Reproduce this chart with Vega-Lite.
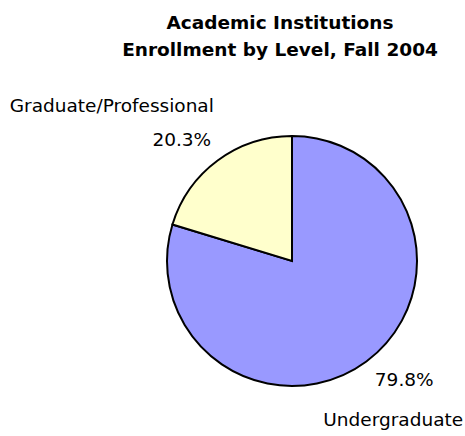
{
  "$schema": "https://vega.github.io/schema/vega-lite/v6.json",
  "width": 346,
  "height": 350,
  "autosize": {"type": "none"},
  "padding": {"left": 119, "top": 86, "right": 0, "bottom": 0},
  "background": "white",
  "view": {"stroke": null},
  "title": {
    "text": ["Academic Institutions", "Enrollment by Level, Fall 2004"],
    "font": "DejaVu Sans",
    "fontSize": 18.5,
    "fontWeight": "bold",
    "color": "black",
    "lineHeight": 27,
    "anchor": "middle",
    "baseline": "bottom",
    "offset": 8,
    "dx": -12
  },
  "data": {
    "values": [
      {"level": "Undergraduate", "value": 79.8, "pct": "79.8%"},
      {"level": "Graduate/Professional", "value": 20.3, "pct": "20.3%"}
    ]
  },
  "encoding": {
    "theta": {"field": "value", "type": "quantitative", "stack": true},
    "order": {"field": "value", "type": "quantitative", "sort": "descending"}
  },
  "layer": [
    {
      "mark": {"type": "arc", "outerRadius": 125, "stroke": "black", "strokeWidth": 2},
      "encoding": {
        "color": {
          "field": "level",
          "type": "nominal",
          "scale": {"domain": ["Undergraduate", "Graduate/Professional"], "range": ["#9999FF", "#FFFFCC"]},
          "legend": null
        }
      }
    },
    {
      "mark": {"type": "text", "radius": 150, "dx": -21, "dy": 0, "font": "DejaVu Sans", "fontSize": 18.5, "color": "black", "align": "center", "baseline": "middle"},
      "encoding": {
        "text": {"condition": {"test": "datum.level === 'Graduate/Professional'", "field": "pct", "type": "nominal"}, "value": ""}
      }
    },
    {
      "mark": {"type": "text", "radius": 150, "dx": -91, "dy": -34, "font": "DejaVu Sans", "fontSize": 18.5, "color": "black", "align": "center", "baseline": "middle"},
      "encoding": {
        "text": {"condition": {"test": "datum.level === 'Graduate/Professional'", "field": "level", "type": "nominal"}, "value": ""}
      }
    },
    {
      "mark": {"type": "text", "radius": 150, "dx": 23, "dy": -2, "font": "DejaVu Sans", "fontSize": 18.5, "color": "black", "align": "center", "baseline": "middle"},
      "encoding": {
        "text": {"condition": {"test": "datum.level === 'Undergraduate'", "field": "pct", "type": "nominal"}, "value": ""}
      }
    },
    {
      "mark": {"type": "text", "radius": 150, "dx": 12, "dy": 38, "font": "DejaVu Sans", "fontSize": 18.5, "color": "black", "align": "center", "baseline": "middle"},
      "encoding": {
        "text": {"condition": {"test": "datum.level === 'Undergraduate'", "field": "level", "type": "nominal"}, "value": ""}
      }
    }
  ]
}
